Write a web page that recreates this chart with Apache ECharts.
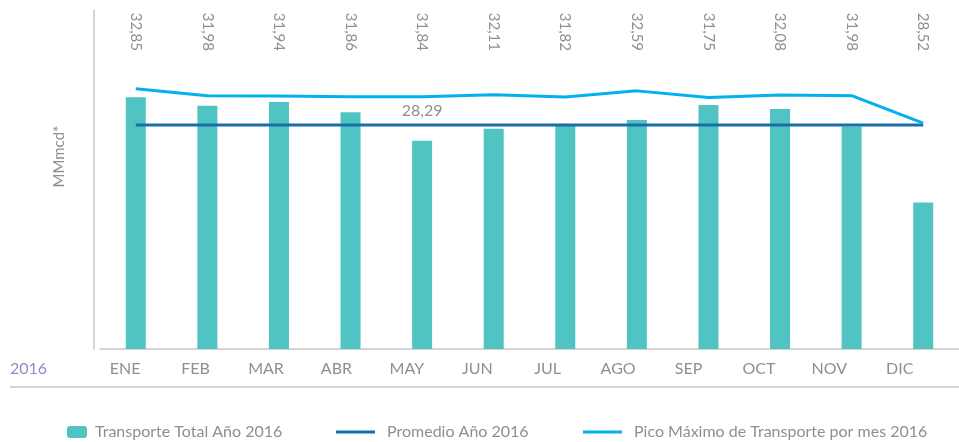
<!DOCTYPE html>
<html>
<head>
<meta charset="utf-8">
<script src="https://cdn.jsdelivr.net/npm/echarts@6/dist/echarts.min.js"></script>
<style>
  html, body { margin: 0; padding: 0; background: #fff; }
  .chart { width: 959px; height: 442px; }
</style>
</head>
<body>
<div class="chart"></div>
<script>
// meses
const months = ['ENE', 'FEB', 'MAR', 'ABR', 'MAY', 'JUN', 'JUL', 'AGO', 'SEP', 'OCT', 'NOV', 'DIC']
// transporte total por mes (barras)
const totalTransport = [31.8, 30.7, 31.2, 29.9, 26.3, 27.8, 28.2, 28.9, 30.8, 30.3, 28.1, 18.5]
// promedio del año
const average2016 = [28.29, 28.29, 28.29, 28.29, 28.29, 28.29, 28.29, 28.29, 28.29, 28.29, 28.29, 28.29]
// pico máximo por mes
const peakMonthly = [32.85, 31.98, 31.94, 31.86, 31.84, 32.11, 31.82, 32.59, 31.75, 32.08, 31.98, 28.52]

const grey = '#8f8f8f'
const font = 'Lato'
const fmt = (v) => v.toFixed(2).replace('.', ',')

const myChart = echarts.init(document.querySelector('.chart'))

const option = {
  textStyle: { fontFamily: font },
  animation: false,
  title: {
    text: '2016',
    left: 10,
    top: 361,
    padding: 0,
    textStyle: { color: '#8a8ec8', fontSize: 16, fontWeight: 'normal', fontFamily: font },
  },
  grid: [
    { left: 100, right: 0, top: 10, bottom: 93 },
    // solo para las etiquetas de meses
    { left: 90, right: 24, top: 10, bottom: 93 },
  ],
  legend: [
    {
      left: 67,
      top: 424,
      padding: 0,
      itemWidth: 20,
      itemHeight: 12,
      data: ['Transporte Total Año 2016'],
      textStyle: { color: grey, fontSize: 16, padding: [0, 0, 0, 3] },
    },
    {
      left: 336,
      top: 424,
      padding: 0,
      itemWidth: 39,
      itemHeight: 3,
      data: [{ name: 'Promedio Año 2016', icon: 'rect' }],
      textStyle: { color: grey, fontSize: 16, padding: [0, 0, 0, 7] },
    },
    {
      left: 583,
      top: 424,
      padding: 0,
      itemWidth: 39,
      itemHeight: 3,
      data: [{ name: 'Pico Máximo de Transporte por mes 2016', icon: 'rect' }],
      textStyle: { color: grey, fontSize: 16, padding: [0, 0, 0, 7] },
    },
  ],
  xAxis: [
    {
      type: 'category',
      gridIndex: 0,
      data: months,
      axisLine: { lineStyle: { color: '#c6c6c6', width: 1.5 } },
      axisTick: { show: false },
      axisLabel: { show: false },
    },
    {
      // valores del pico arriba
      type: 'category',
      gridIndex: 0,
      position: 'top',
      offset: -45,
      data: peakMonthly.map(fmt),
      axisLine: { show: false },
      axisTick: { show: false },
      axisLabel: { rotate: 90, margin: 4, color: grey, fontSize: 15 },
    },
    {
      type: 'category',
      gridIndex: 1,
      data: months,
      axisLine: { show: false },
      axisTick: { show: false },
      axisLabel: { color: grey, fontSize: 16, margin: 12 },
    },
  ],
  yAxis: [
    {
      type: 'value',
      gridIndex: 0,
      min: 0,
      max: 42.8,
      offset: 6,
      name: 'MMmcd*',
      nameLocation: 'middle',
      nameGap: 27,
      nameTextStyle: { color: grey, fontSize: 15, padding: [0, 0, 0, 46] },
      axisLine: { show: true, lineStyle: { color: '#c6c6c6', width: 1.5 } },
      axisTick: { show: false },
      axisLabel: { show: false },
      splitLine: { show: false },
    },
    { type: 'value', gridIndex: 1, show: false },
  ],
  series: [
    {
      name: 'Transporte Total Año 2016',
      type: 'bar',
      data: totalTransport,
      barWidth: 20,
      itemStyle: { color: '#50c4c2' },
    },
    {
      name: 'Promedio Año 2016',
      type: 'line',
      data: average2016.map((v, i) =>
        i === 4 ? { value: v, label: { show: true } } : v
      ),
      symbol: 'circle',
      symbolSize: 0,
      showSymbol: true,
      lineStyle: { color: '#186fa8', width: 3 },
      itemStyle: { color: '#186fa8' },
      label: {
        show: false,
        position: 'top',
        distance: 6,
        color: grey,
        fontSize: 16,
        formatter: (p) => fmt(p.value),
      },
      z: 3,
    },
    {
      name: 'Pico Máximo de Transporte por mes 2016',
      type: 'line',
      data: peakMonthly,
      symbol: 'none',
      lineStyle: { color: '#00b0f0', width: 3 },
      itemStyle: { color: '#00b0f0' },
      z: 4,
    },
  ],
  graphic: [
    {
      type: 'line',
      shape: { x1: 10, y1: 387, x2: 959, y2: 387 },
      style: { stroke: '#c6c6c6', lineWidth: 1.5 },
    },
  ],
}

myChart.setOption(option)
</script>
</body>
</html>
